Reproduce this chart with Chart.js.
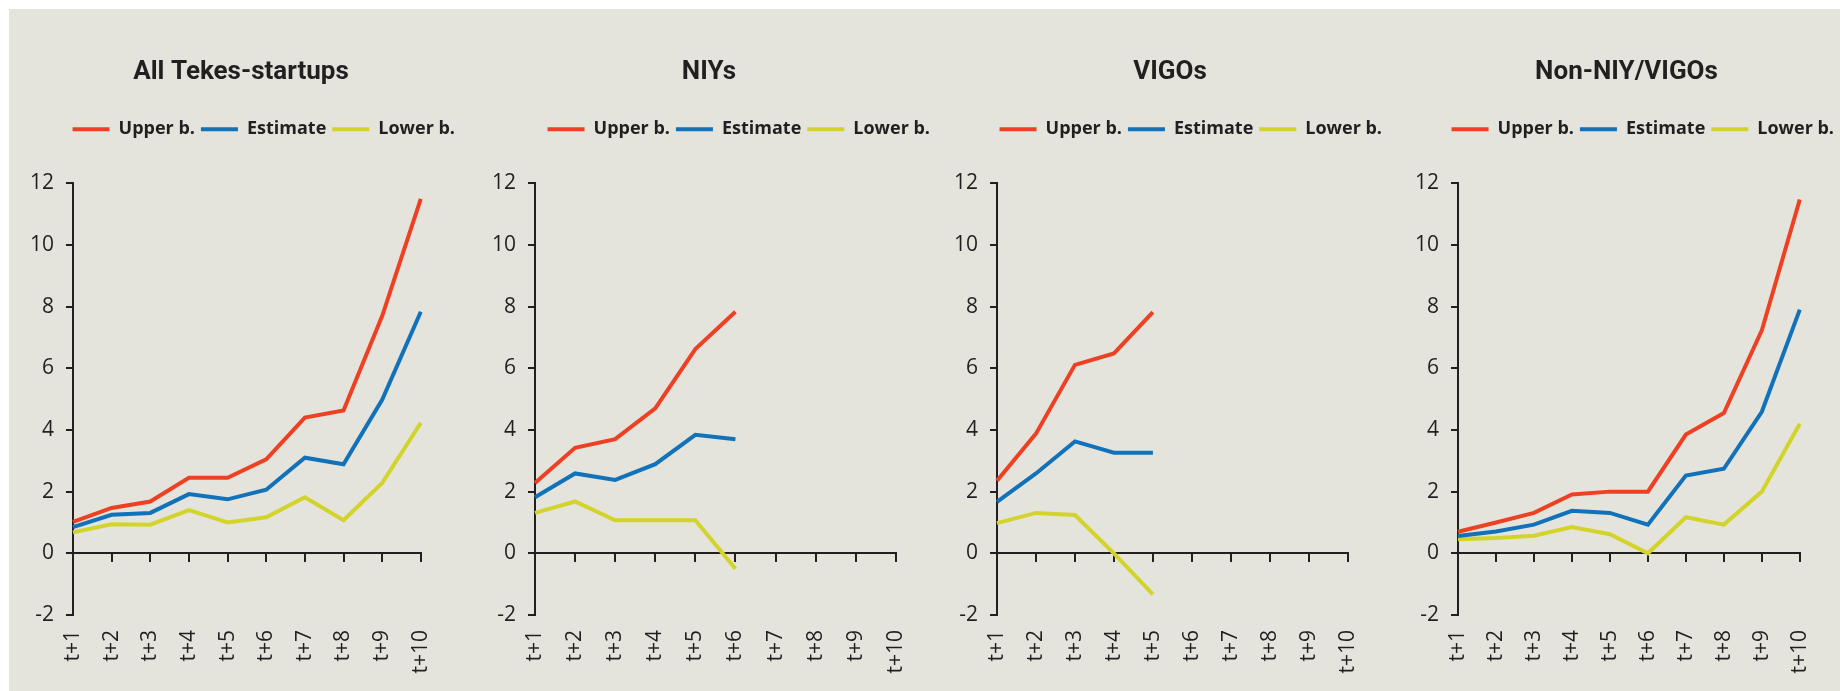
<!DOCTYPE html>
<html>
<head>
<meta charset="utf-8">
<script src="https://cdn.jsdelivr.net/npm/chart.js@4.4.1/dist/chart.umd.min.js"></script>
<style>
  html, body { margin: 0; padding: 0; background: #fff; overflow: hidden; width: 1840px; height: 691px; }
  #bg { position: absolute; left: 9px; top: 9px; width: 1831px; height: 682px; background: #e4e4dc; }
  canvas { position: absolute; top: 0; }
</style>
</head>
<body>
<div id="bg"></div>
<canvas id="c0"></canvas>
<canvas id="c1"></canvas>
<canvas id="c2"></canvas>
<canvas id="c3"></canvas>
<script>
const periods = ["t+1", "t+2", "t+3", "t+4", "t+5", "t+6", "t+7", "t+8", "t+9", "t+10"];
const titles = ["All Tekes-startups", "NIYs", "VIGOs", "Non-NIY/VIGOs"];
const seriesNames = ["Upper b.", "Estimate", "Lower b."];
const yTicks = [-2, 0, 2, 4, 6, 8, 10, 12];

// All Tekes-startups
const allUpper = [1.02, 1.47, 1.68, 2.45, 2.45, 3.05, 4.4, 4.63, 7.69, 11.49];
const allEstimate = [0.85, 1.25, 1.31, 1.92, 1.75, 2.06, 3.1, 2.89, 4.98, 7.83];
const allLower = [0.68, 0.94, 0.93, 1.4, 1.0, 1.17, 1.82, 1.07, 2.28, 4.23];

// NIYs
const niyUpper = [2.28, 3.42, 3.7, 4.7, 6.62, 7.83];
const niyEstimate = [1.82, 2.59, 2.38, 2.89, 3.84, 3.7];
const niyLower = [1.31, 1.68, 1.07, 1.07, 1.07, -0.5];

// VIGOs
const vigoUpper = [2.35, 3.88, 6.11, 6.48, 7.82];
const vigoEstimate = [1.67, 2.59, 3.63, 3.26, 3.26];
const vigoLower = [0.98, 1.31, 1.24, 0.0, -1.33];

// Non-NIY/VIGOs
const otherUpper = [0.7, 1.0, 1.31, 1.91, 2.0, 2.0, 3.85, 4.55, 7.23, 11.47];
const otherEstimate = [0.56, 0.71, 0.93, 1.38, 1.31, 0.93, 2.52, 2.74, 4.59, 7.9];
const otherLower = [0.46, 0.5, 0.57, 0.85, 0.62, 0.0, 1.17, 0.93, 2.0, 4.2];

const panelData = [
  [allUpper, allEstimate, allLower],
  [niyUpper, niyEstimate, niyLower],
  [vigoUpper, vigoEstimate, vigoLower],
  [otherUpper, otherEstimate, otherLower],
];

const colors = ["#ee4124", "#1172b9", "#d3d42b"];
const ink = "#231f20";

// a/b = edges of the title/legend band, yw/rw = widths beside the plot
const frames = [
  { a: 21, b: 461, yw: 52, rw: 17 },
  { a: 482, b: 936, yw: 53, rw: 33 },
  { a: 952, b: 1388, yw: 45, rw: 20 },
  { a: 1413, b: 1840, yw: 45, rw: 13 },
];

const padLeft = 45;

panelData.forEach((series, i) => {
  const f = frames[i];
  const canvas = document.getElementById("c" + i);
  canvas.width = f.b - f.a + padLeft;
  canvas.height = 691;
  canvas.style.left = (f.a - padLeft) + "px";

  new Chart(canvas.getContext("2d"), {
    type: "line",
    data: {
      labels: periods,
      datasets: series.map((values, k) => ({
        label: seriesNames[k],
        data: values,
        borderColor: colors[k],
        backgroundColor: colors[k],
        borderWidth: 4,
        pointRadius: 0,
        tension: 0,
        fill: false,
        xAxisID: "x",
        yAxisID: "y",
      })),
    },
    options: {
      responsive: false,
      animation: false,
      devicePixelRatio: 1,
      layout: { padding: { left: padLeft, top: 40, right: 0, bottom: 0 } },
      plugins: {
        tooltip: { enabled: false },
        title: {
          display: true,
          text: titles[i],
          color: ink,
          font: { family: "Roboto", size: 26, weight: "bold" },
          padding: { top: 17, bottom: 26 },
        },
        legend: {
          display: true,
          align: "end",
          labels: {
            usePointStyle: true,
            pointStyle: "line",
            pointStyleWidth: 37,
            padding: 6,
            color: ink,
            font: { family: "Open Sans", size: 18, weight: "bold" },
          },
        },
      },
      scales: {
        x: {
          type: "category",
          position: { y: 0 },
          offset: false,
          ticks: { display: false },
          grid: { drawOnChartArea: false, drawTicks: true, tickLength: 8, color: ink, lineWidth: 2 },
          border: { color: ink, width: 2 },
        },
        x2: {
          type: "category",
          position: "bottom",
          offset: false,
          ticks: {
            autoSkip: false,
            minRotation: 90,
            maxRotation: 90,
            padding: 15,
            color: ink,
            font: { family: "Open Sans", size: 21 },
          },
          grid: { display: false, drawTicks: false },
          border: { display: false },
          afterFit: (s) => { s.height = 76; },
        },
        xTop: {
          type: "category",
          position: "top",
          ticks: { display: false },
          grid: { display: false, drawTicks: false },
          border: { display: false },
          afterFit: (s) => { s.height = 35; },
        },
        y: {
          type: "linear",
          position: "left",
          min: -2,
          max: 12,
          afterBuildTicks: (s) => { s.ticks = yTicks.map((v) => ({ value: v })); },
          ticks: { color: ink, padding: 12, font: { family: "Open Sans", size: 21 } },
          grid: { drawOnChartArea: false, drawTicks: true, tickLength: 7, color: ink, lineWidth: 2 },
          border: { color: ink, width: 2 },
          afterFit: (s) => { s.width = f.yw; },
        },
        yR: {
          type: "linear",
          position: "right",
          ticks: { display: false },
          grid: { display: false, drawTicks: false },
          border: { display: false },
          afterFit: (s) => { s.width = f.rw; },
        },
      },
    },
  });
});
</script>
</body>
</html>
